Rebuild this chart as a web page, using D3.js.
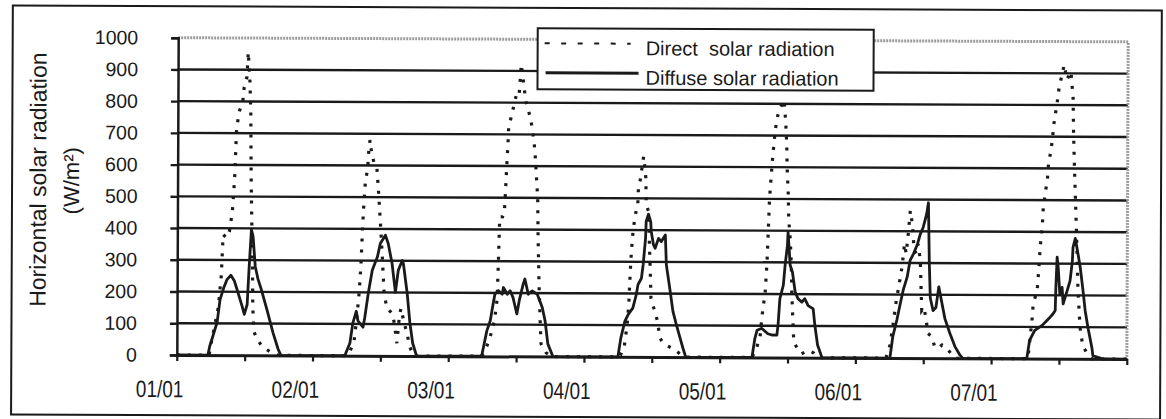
<!DOCTYPE html>
<html><head><meta charset="utf-8">
<script src="https://cdn.jsdelivr.net/npm/d3@7"></script>
<style>html,body{margin:0;padding:0;background:#fff;} svg{display:block;}</style>
</head><body>
<svg id="c" width="1166" height="419"></svg>
<script>
// ---- data (hour of week, W/m2) ----
const yTicks = [0,100,200,300,400,500,600,700,800,900,1000];
const xTickLabels = ["01/01","02/01","03/01","04/01","05/01","06/01","07/01"];
const xLabelHours = [0,24,48,72,96,120,144];
const xTickHours = [0,12,24,36,48,60,72,84,96,108,120,132,144,156,168];
const seriesNames = ["Direct  solar radiation","Diffuse solar radiation"];

const direct = [
 [0,0],
 [5.7,0],[6.2,50],[7.3,150],[7.8,250],[8.1,380],[8.7,370],[9.2,390],[9.7,450],[10.1,560],[10.3,664],[10.4,711],[10.8,764],[11.5,805],[11.7,843],[12.2,878],[12.4,956],[12.7,874],[12.9,764],[13.0,574],[13.1,469],[13.3,290],[13.4,150],[13.6,75],[14.2,50],[15.0,30],[15.9,18],[16.8,8],[17.9,0],
 [30.2,0],[31.3,40],[31.8,120],[32.2,200],[32.5,290],[32.7,380],[32.9,460],[33.2,546],[33.6,590],[33.8,648],[34.0,680],[34.3,640],[34.7,610],[35.2,600],[35.5,530],[35.9,420],[36.3,300],[36.6,200],[37.1,150],[37.7,140],[38.2,130],[38.6,80],[38.9,40],[39.3,120],[39.6,150],[40.1,110],[40.7,70],[41.2,28],[41.9,0],
 [53.8,0],[54.3,10],[55.0,40],[55.7,80],[56.2,120],[56.6,180],[56.8,300],[57.0,440],[57.5,440],[57.8,450],[58.0,520],[58.2,600],[58.4,670],[58.5,720],[59.2,774],[59.8,821],[60.3,816],[60.7,921],[61.0,879],[61.5,806],[62.4,749],[63.0,680],[63.3,616],[63.5,553],[63.7,500],[63.8,374],[64.0,228],[64.2,123],[64.4,40],[65.3,12],[66.3,0],
 [78.3,0],[79.1,30],[79.6,100],[79.9,170],[80.1,260],[80.3,330],[80.6,400],[81.0,450],[81.4,480],[81.5,530],[81.9,565],[82.1,594],[82.4,632],[82.6,600],[82.8,565],[82.9,480],[83.3,459],[83.5,350],[83.7,250],[83.8,186],[84.2,160],[84.7,134],[85.1,100],[85.4,60],[86.0,45],[86.8,35],[87.9,25],[89.0,10],[90.0,0],
 [101.7,0],[102.4,25],[103.1,60],[103.4,123],[104.0,207],[104.3,300],[104.5,400],[104.7,502],[104.9,553],[105.2,627],[105.4,669],[105.7,722],[106.1,764],[106.3,774],[106.6,790],[107.2,812],[107.5,742],[107.7,669],[107.8,590],[108.0,518],[108.1,437],[108.4,370],[108.6,291],[108.7,207],[108.9,123],[109.1,47],[109.8,28],[110.5,12],[111.2,20],[111.9,22],[112.6,15],[113.3,0],
 [125.4,0],[126.1,40],[126.6,100],[127.1,170],[127.7,235],[128.2,290],[128.6,360],[128.9,330],[129.3,400],[129.6,465],[130.0,420],[130.3,340],[130.7,330],[131.0,360],[131.4,310],[131.6,200],[131.7,150],[132.1,160],[132.5,120],[132.8,78],[133.5,68],[134.0,37],[134.6,31],[135.3,42],[136.2,31],[136.9,15],[137.8,0],
 [150.5,0],[151.2,120],[151.4,173],[152.1,215],[152.3,267],[152.6,351],[152.8,393],[153.0,435],[153.1,471],[153.5,529],[153.8,560],[154.0,613],[154.4,654],[154.7,696],[154.9,738],[155.3,785],[155.6,822],[155.8,853],[156.7,927],[157.2,880],[157.9,906],[158.3,822],[158.4,720],[158.6,600],[158.8,500],[159.0,400],[159.3,220],[159.7,100],[160.2,40],[160.9,20],[161.8,0],
 [168,0]
];

const diffuse = [
 [0,0],
 [5.5,0],[5.8,27],[7.1,103],[7.6,175],[8.3,215],[8.8,238],[9.5,252],[10.1,235],[10.6,207],[11.5,155],[11.9,129],[12.4,160],[12.7,270],[13.1,396],[13.4,374],[13.8,280],[14.3,240],[14.9,207],[15.9,144],[17.0,71],[17.9,20],[18.4,0],
 [29.7,0],[30.6,40],[31.1,103],[31.7,140],[32.0,110],[32.9,90],[33.2,120],[33.8,196],[34.5,270],[35.4,312],[35.9,354],[36.8,380],[37.3,354],[38.0,291],[38.6,200],[39.1,270],[39.8,301],[40.0,291],[40.7,196],[41.2,103],[41.7,40],[42.4,0],
 [53.9,0],[54.8,80],[55.4,112],[55.9,166],[56.2,196],[56.8,207],[57.5,196],[57.7,217],[58.4,196],[58.9,207],[59.4,186],[60.1,134],[60.5,175],[61.2,228],[61.5,244],[62.1,196],[62.8,207],[63.7,196],[64.6,154],[65.1,112],[65.6,40],[66.5,0],
 [78.0,0],[78.5,59],[79.2,112],[79.8,134],[80.6,154],[81.2,196],[81.5,228],[82.1,248],[82.4,291],[82.8,374],[82.9,427],[83.3,450],[83.7,427],[83.8,396],[84.2,354],[84.5,343],[85.1,374],[85.6,364],[86.3,385],[86.5,291],[87.2,207],[87.7,144],[88.3,103],[89.0,59],[89.5,28],[90.0,0],
 [101.7,0],[102.2,59],[102.6,86],[103.4,92],[104.5,75],[105.2,71],[106.1,71],[106.3,103],[106.6,186],[107.2,228],[107.5,291],[107.9,354],[108.0,396],[108.4,291],[108.8,270],[109.3,207],[109.8,186],[110.5,175],[111.0,186],[111.6,164],[112.5,154],[112.8,103],[113.3,40],[114.1,0],
 [126.1,0],[126.6,68],[127.3,120],[127.9,172],[128.4,214],[129.1,256],[129.6,308],[130.2,329],[130.9,360],[131.4,392],[131.9,413],[132.5,455],[132.8,490],[133.0,300],[133.2,190],[133.7,150],[134.2,160],[134.7,225],[135.3,170],[135.8,125],[136.7,78],[137.6,37],[138.5,10],[139.0,0],
 [150.3,0],[150.8,58],[151.7,89],[153.0,105],[153.8,120],[154.4,131],[154.9,141],[155.3,152],[155.4,225],[155.6,320],[155.8,288],[156.1,204],[156.5,225],[156.7,173],[157.4,215],[157.9,246],[158.3,309],[158.4,351],[158.8,380],[159.3,330],[159.7,288],[160.2,215],[160.6,152],[161.1,99],[161.8,37],[162.0,10],[162.9,5],[163.8,0],
 [168,0]
];

// ---- drawing ----
const W = 1166, H = 419;
const FONT = "'Liberation Sans', Arial, Helvetica, sans-serif";
const INK = "#1a1a1a";
const svg = d3.select("#c");
svg.append("rect").attr("width", W).attr("height", H).attr("fill", "#fff");
const g = svg.append("g").attr("transform", "rotate(0.25 583 200)");

const x = d3.scaleLinear().domain([0, 168]).range([177.5, 1127.5]);
const y = d3.scaleLinear().domain([0, 1000]).range([356.7, 39.5]);

// outer frame
g.append("rect").attr("x", 12).attr("y", 8).attr("width", 1149).attr("height", 409)
  .attr("fill", "none").attr("stroke", INK).attr("stroke-width", 2);

// gridlines
g.append("g").selectAll("line").data(yTicks.filter(d => d > 0 && d < 1000)).join("line")
  .attr("x1", x(0)).attr("x2", x(168)).attr("y1", d => y(d)).attr("y2", d => y(d))
  .attr("stroke", INK).attr("stroke-width", 2.4);

// plot area top/right border (grey)
g.append("path").attr("d", `M${x(0)},${y(1000)}H${x(168)}V${y(0)}`)
  .attr("fill", "none").attr("stroke", "#9c9c9c").attr("stroke-width", 3)
  .attr("stroke-dasharray", "2,1");

// y axis
const yAxisG = g.append("g").attr("transform", `translate(${x(0)},0)`)
  .call(d3.axisLeft(y).tickValues(yTicks).tickSize(7).tickPadding(33).tickFormat(d3.format("d")));
yAxisG.select(".domain").attr("stroke", INK).attr("stroke-width", 2.5);
yAxisG.selectAll(".tick line").attr("stroke", INK).attr("stroke-width", 2.4);
yAxisG.selectAll(".tick text").attr("fill", INK).style("font-family", FONT).style("font-size", "19.5px");

// x axis
const xAxisG = g.append("g").attr("transform", `translate(0,${y(0)})`)
  .call(d3.axisBottom(x).tickValues(xTickHours).tickSize(6).tickSizeOuter(0).tickFormat(""));
xAxisG.select(".domain").attr("stroke", INK).attr("stroke-width", 3);
xAxisG.selectAll(".tick line").attr("stroke", INK).attr("stroke-width", 2.2);

g.append("g").selectAll("text").data(xLabelHours).join("text")
  .attr("transform", d => `translate(${x(d) - 17},399) scale(1,1.25)`)
  .attr("text-anchor", "middle").attr("fill", INK)
  .style("font-family", FONT).style("font-size", "19px")
  .text((d, i) => xTickLabels[i]);

// series
const line = d3.line().x(d => x(d[0])).y(d => y(d[1]));
g.append("path").datum(direct).attr("d", line).attr("fill", "none")
  .attr("stroke", INK).attr("stroke-width", 3.2).attr("stroke-dasharray", "3,8");
g.append("path").datum(diffuse).attr("d", line).attr("fill", "none")
  .attr("stroke", INK).attr("stroke-width", 2.8).attr("stroke-linejoin", "round");

// y title
const yt = g.append("g").attr("font-family", FONT).attr("fill", INK);
yt.append("text").attr("transform", "translate(46,182) rotate(-90)").attr("text-anchor", "middle")
  .style("font-size", "23px").text("Horizontal solar radiation");
yt.append("text").attr("transform", "translate(79,183) rotate(-90)").attr("text-anchor", "middle")
  .style("font-size", "22px").text("(W/m²)");

// legend
const lg = g.append("g");
lg.append("rect").attr("x", 537).attr("y", 28.5).attr("width", 336).attr("height", 61)
  .attr("fill", "#fff").attr("stroke", INK).attr("stroke-width", 2);
lg.append("line").attr("x1", 544).attr("x2", 630).attr("y1", 43.5).attr("y2", 43.5)
  .attr("stroke", INK).attr("stroke-width", 2).attr("stroke-dasharray", "5,11.5");
lg.append("line").attr("x1", 545).attr("x2", 638).attr("y1", 73).attr("y2", 73)
  .attr("stroke", INK).attr("stroke-width", 3);
lg.selectAll("text.lt").data(seriesNames).join("text").attr("class", "lt")
  .attr("x", 645).attr("y", (d, i) => 55 + i * 29.5)
  .attr("fill", INK).style("font-family", FONT).style("font-size", "20px")
  .style("white-space", "pre").attr("xml:space", "preserve")
  .text(d => d);
</script>
</body></html>
